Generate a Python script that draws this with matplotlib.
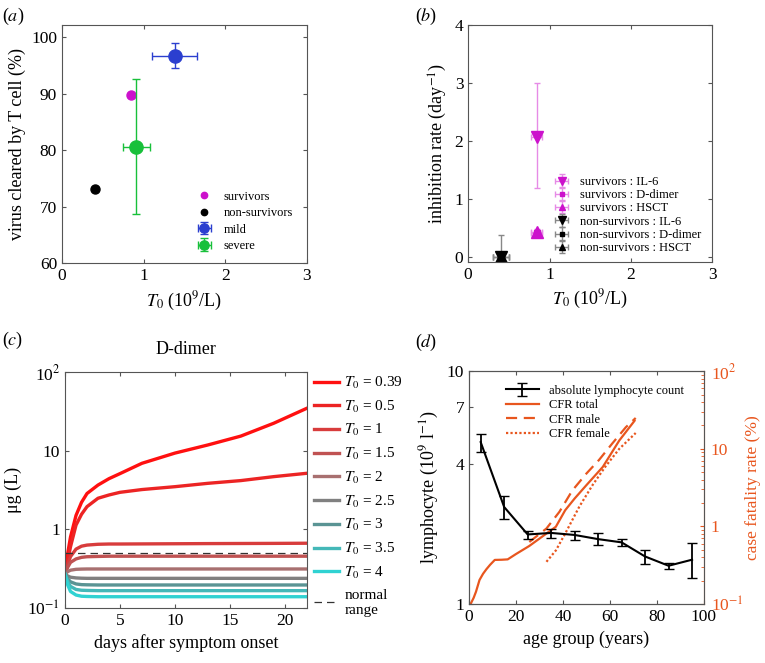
import matplotlib
matplotlib.use('Agg')
import matplotlib.pyplot as plt
from matplotlib.ticker import FixedLocator, NullFormatter, LogLocator

plt.rcParams['font.family'] = ['Liberation Serif', 'DejaVu Serif']
plt.rcParams['mathtext.fontset'] = 'stix'
plt.rcParams['axes.edgecolor'] = '#555555'
plt.rcParams['xtick.direction'] = 'in'
plt.rcParams['ytick.direction'] = 'in'
plt.rcParams['xtick.color'] = '#555555'
plt.rcParams['ytick.color'] = '#555555'
plt.rcParams['xtick.labelcolor'] = 'black'
plt.rcParams['ytick.labelcolor'] = 'black'
plt.rcParams['xtick.labelsize'] = 12.5
plt.rcParams['ytick.labelsize'] = 12.5

# ---- panel (a) data ----
surv_T0, surv_vc = 0.84, 89.7
nonsurv_T0, nonsurv_vc = 0.40, 73.1
mild_T0, mild_vc = 1.38, 96.7
mild_xerr = [[0.28], [0.27]]
mild_yerr = [[2.1], [2.2]]
severe_T0, severe_vc = 0.91, 80.6
severe_xerr = [[0.16], [0.17]]
severe_yerr = [[11.9], [11.9]]

# ---- panel (b) data ----
b_labels = ['survivors : IL-6', 'survivors : D-dimer', 'survivors : HSCT',
            'non-survivors : IL-6', 'non-survivors : D-dimer', 'non-survivors : HSCT']
b_T0 = [0.84, 0.84, 0.84, 0.40, 0.40, 0.40]
b_T0_err = [0.07, 0.07, 0.07, 0.10, 0.10, 0.10]
b_rate = [2.08, 0.42, 0.43, 0.0, 0.0, 0.0]
b_rate_lo = [0.88, 0.05, 0.05, 0.0, 0.0, 0.0]
b_rate_hi = [0.92, 0.05, 0.05, 0.38, 0.02, 0.02]
b_markers = ['v', 's', '^', 'v', 's', '^']
b_sizes = [9, 5, 8, 9, 5, 8]

# ---- panel (c) data ----
days = [0, 0.25, 0.5, 1, 1.5, 2, 3, 4, 5, 7, 10, 13, 16, 19, 22]
T0_values = ['0.39', '0.5', '1', '1.5', '2', '2.5', '3', '3.5', '4']
ddimer = [
    [0.27, 0.5, 0.8, 1.5, 2.2, 2.85, 3.65, 4.4, 5.1, 6.9, 9.3, 11.8, 15.3, 22.3, 34.5],
    [0.27, 0.4, 0.6, 1.13, 1.55, 1.94, 2.48, 2.73, 2.95, 3.2, 3.48, 3.84, 4.16, 4.67, 5.15],
    [0.27, 0.36, 0.45, 0.56, 0.61, 0.63, 0.645, 0.65, 0.65, 0.652, 0.655, 0.658, 0.66, 0.662, 0.665],
    [0.27, 0.33, 0.38, 0.42, 0.44, 0.448, 0.452, 0.455, 0.455, 0.455, 0.455, 0.455, 0.455, 0.455, 0.455],
    [0.27, 0.29, 0.302, 0.31, 0.312, 0.313, 0.313, 0.313, 0.313, 0.313, 0.313, 0.313, 0.313, 0.313, 0.313],
    [0.27, 0.255, 0.246, 0.241, 0.239, 0.238, 0.238, 0.238, 0.238, 0.238, 0.238, 0.238, 0.238, 0.238, 0.238],
    [0.27, 0.235, 0.215, 0.202, 0.198, 0.197, 0.196, 0.196, 0.196, 0.196, 0.196, 0.196, 0.196, 0.196, 0.196],
    [0.27, 0.215, 0.188, 0.172, 0.168, 0.167, 0.166, 0.166, 0.166, 0.166, 0.166, 0.166, 0.166, 0.166, 0.166],
    [0.27, 0.195, 0.162, 0.146, 0.141, 0.14, 0.139, 0.139, 0.139, 0.139, 0.139, 0.139, 0.139, 0.139, 0.139],
]
curve_colors = ['#ff1010', '#ec2424', '#d83c3c', '#c05252', '#a87070',
                '#808080', '#5a9494', '#44b8b8', '#30d2d2']
normal_range = 0.5

# ---- panel (d) data ----
age_groups = [5, 15, 25, 35, 45, 55, 65, 75, 85, 95]
lymph = [4.96, 2.61, 1.99, 2.02, 1.98, 1.90, 1.84, 1.60, 1.46, 1.55]
lymph_lo = [4.5, 2.33, 1.90, 1.93, 1.88, 1.80, 1.77, 1.48, 1.42, 1.29]
lymph_hi = [5.4, 2.9, 2.06, 2.10, 2.06, 2.01, 1.90, 1.71, 1.50, 1.83]

cfr_total_age = [0.7, 2, 3, 4.5, 6, 7.4, 9, 11, 14, 16.5, 20, 25.7, 33, 37, 41, 45, 50, 57, 64, 70.5]
cfr_total = [0.1, 0.12, 0.144, 0.204, 0.245, 0.28, 0.32, 0.37, 0.372, 0.376, 0.44, 0.56, 0.81,
             0.99, 1.62, 2.29, 3.4, 5.85, 12.8, 23]
cfr_male_age = [25.7, 33, 38.5, 44, 50, 55.4, 61, 66.8, 71]
cfr_male = [0.63, 0.94, 1.54, 2.9, 4.8, 7.2, 11.7, 19, 25]
cfr_female_age = [33, 37, 41, 47, 52.6, 58, 64, 71]
cfr_female = [0.35, 0.49, 0.81, 1.8, 3.4, 5.85, 10, 16]
orange = '#e8561e'

fig = plt.figure(figsize=(7.65, 6.63), dpi=100)

# ================= (a) =================
ax = fig.add_axes([0.081, 0.603, 0.320, 0.359])
ax.plot(surv_T0, surv_vc, 'o', color='#cc11cc', ms=6.5, label='survivors')
ax.plot(nonsurv_T0, nonsurv_vc, 'o', color='black', ms=6.5, label='non-survivors')
ax.errorbar(mild_T0, mild_vc, xerr=mild_xerr, yerr=mild_yerr, fmt='o', color='#2b3fcf',
            ms=9.5, capsize=3, elinewidth=1, label='mild')
ax.errorbar(severe_T0, severe_vc, xerr=severe_xerr, yerr=severe_yerr, fmt='o', color='#18c03a',
            ms=9.5, capsize=3, elinewidth=1, label='severe')
ax.set_xlim(0, 3)
ax.set_ylim(60, 102.1)
ax.set_xticks([0, 1, 2, 3])
ax.set_yticks([60, 70, 80, 90, 100])
ax.tick_params(top=True, right=True, length=3)
ax.set_xlabel('$T_0$ (10$^9$/L)', fontsize=13)
ax.set_ylabel('virus cleared by T cell (%)', fontsize=13)
ax.legend(loc='lower right', frameon=False, fontsize=9, markerscale=0.7,
          handlelength=1.5, labelspacing=0.35, bbox_to_anchor=(0.99, 0.0))
fig.text(0.003, 0.975, '($a$)', fontsize=13, va='center')

# ================= (b) =================
ax = fig.add_axes([0.612, 0.605, 0.319, 0.357])
for i in range(6):
    if i < 3:
        col, ecol = '#cc11cc', '#e68be6'
    else:
        col, ecol = 'black', '#888888'
    ax.errorbar(b_T0[i], b_rate[i], xerr=b_T0_err[i],
                yerr=[[b_rate_lo[i]], [b_rate_hi[i]]], fmt=b_markers[i], color=col,
                ecolor=ecol, ms=b_sizes[i], capsize=2.5, elinewidth=1, label=b_labels[i])
ax.set_xlim(0, 3)
ax.set_ylim(-0.08, 4)
ax.set_xticks([0, 1, 2, 3])
ax.set_yticks([0, 1, 2, 3, 4])
ax.tick_params(top=True, right=True, length=3)
ax.set_xlabel('$T_0$ (10$^9$/L)', fontsize=13)
ax.set_ylabel('inhibition rate (day$^{-1}$)', fontsize=13)
ax.legend(loc='lower right', frameon=False, fontsize=9, markerscale=0.6,
          handlelength=1.3, labelspacing=0.1, bbox_to_anchor=(1.0, -0.015))
fig.text(0.543, 0.975, '($b$)', fontsize=13, va='center')

# ================= (c) =================
ax = fig.add_axes([0.085, 0.083, 0.316, 0.356])
for vals, lab, col in zip(ddimer, T0_values, curve_colors):
    ax.plot(days, vals, color=col, lw=2.4, label='$T_0$ = ' + lab)
ax.axhline(normal_range, color='#333333', lw=0.9, ls=(0, (6, 4)), label='normal\nrange')
ax.set_yscale('log')
ax.set_xlim(0, 22)
ax.set_ylim(0.1, 100)
ax.set_xticks([0, 5, 10, 15, 20])
ax.yaxis.set_major_locator(FixedLocator([0.1, 1, 10, 100]))
ax.yaxis.set_minor_locator(FixedLocator([]))
ax.set_yticklabels(['10$^{-1}$', '1', '10', '10$^{2}$'])
ax.tick_params(top=True, right=True, length=3)
ax.set_title('D-dimer', fontsize=13, pad=13)
ax.set_xlabel('days after symptom onset', fontsize=13)
ax.set_ylabel('μg (L)', fontsize=13)
ax.legend(loc='upper left', frameon=False, fontsize=11, handlelength=1.6,
          labelspacing=0.5, bbox_to_anchor=(1.0, 1.02), borderaxespad=0.1,
          handletextpad=0.35)
fig.text(0.003, 0.487, '($c$)', fontsize=13, va='center')

# ================= (d) =================
ax = fig.add_axes([0.613, 0.089, 0.307, 0.351])
ax2 = ax.twinx()
ax2.plot(cfr_total_age, cfr_total, color=orange, lw=1.6)
ax2.plot(cfr_male_age, cfr_male, color=orange, lw=1.6, ls=(0, (5, 3)))
ax2.plot(cfr_female_age, cfr_female, color=orange, lw=1.6, ls=(0, (1, 1)))
ax2.set_yscale('log')
ax2.set_ylim(0.1, 100)
ax2.yaxis.set_major_locator(FixedLocator([0.1, 1, 10, 100]))
ax2.yaxis.set_minor_locator(LogLocator(base=10, subs=range(2, 10)))
ax2.yaxis.set_minor_formatter(NullFormatter())
ax2.set_yticklabels(['10$^{-1}$', '1', '10', '10$^{2}$'])
ax2.tick_params(axis='y', which='both', colors=orange, labelcolor=orange, direction='in')
ax2.tick_params(axis='y', which='major', length=3, pad=5)
ax2.tick_params(axis='y', which='minor', length=2)
ax2.spines['right'].set_color(orange)
ax2.set_ylabel('case fatality rate (%)', fontsize=12.5, color=orange, labelpad=1)

h_lymph = ax.errorbar(age_groups, lymph,
                      yerr=[[v - lo for v, lo in zip(lymph, lymph_lo)],
                            [hi - v for v, hi in zip(lymph, lymph_hi)]],
                      color='black', lw=1.5, capsize=3.5, elinewidth=1.3)
h_tot, = ax.plot([], [], color=orange, lw=1.6)
h_male, = ax.plot([], [], color=orange, lw=1.6, ls=(0, (5, 3)))
h_fem, = ax.plot([], [], color=orange, lw=1.6, ls=(0, (1, 1)))
ax.set_yscale('log')
ax.set_xlim(0, 100)
ax.set_ylim(1, 10)
ax.yaxis.set_major_locator(FixedLocator([1, 4, 7, 10]))
ax.yaxis.set_minor_locator(FixedLocator([]))
ax.set_yticklabels(['1', '4', '7', '10'])
ax.set_xticks([0, 20, 40, 60, 80, 100])
ax.tick_params(top=True, length=3)
ax.set_zorder(ax2.get_zorder() + 1)
ax.patch.set_visible(False)
ax.set_xlabel('age group (years)', fontsize=13)
ax.set_ylabel('lymphocyte (10$^9$ l$^{-1}$)', fontsize=13)
ax.legend([h_lymph, h_tot, h_male, h_fem],
          ['absolute lymphocyte count', 'CFR total', 'CFR male', 'CFR female'],
          loc='upper left', frameon=False, fontsize=9, handlelength=2.6,
          labelspacing=0.2, bbox_to_anchor=(0.11, 0.99))
fig.text(0.543, 0.484, '($d$)', fontsize=13, va='center')

fig.savefig('out.png', dpi=100)
